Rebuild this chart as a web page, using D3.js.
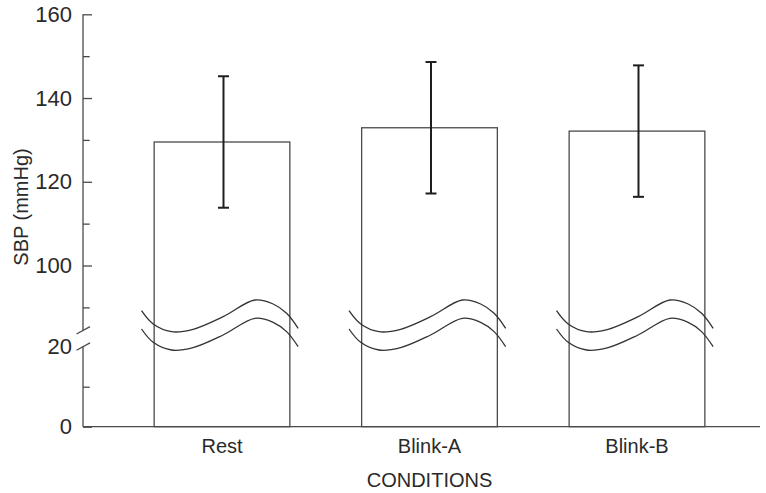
<!DOCTYPE html>
<html>
<head>
<meta charset="utf-8">
<script src="https://cdn.jsdelivr.net/npm/d3@7"></script>
<style>
  html, body { margin: 0; padding: 0; background: #fff; }
  svg { display: block; }
  text { font-family: "Liberation Sans", Arial, Helvetica, sans-serif; fill: #2a2a2a; }
</style>
</head>
<body>
<svg id="chart" width="766" height="493"></svg>
<script>
// Systolic blood pressure by condition (mean ± SD)
const categories = ["Rest", "Blink-A", "Blink-B"];
const meanSBP = [129.5, 132.9, 132.1];
const sdSBP = [15.7, 15.7, 15.7];
const majorTicks = [0, 20, 100, 120, 140, 160];
const minorTicks = [10, 90, 110, 130, 150];
const yTitle = "SBP (mmHg)";
const xTitle = "CONDITIONS";

// Broken value axis: 0–20 below the break, 84.5–160 above it
const breakLow = 20, breakHigh = 84.5;

const svg = d3.select("#chart");
const ink = "#2a2a2a";
const lineGrey = "#4a4a4a";
const axisX = 83;

const y = d3.scaleLinear()
  .domain([0, breakLow, breakHigh, 160])
  .range([426.7, 346.7, 330.4, 14.3]);

const x = d3.scaleBand()
  .domain(categories)
  .range([118.25, 740.75])
  .paddingInner(0.346)
  .paddingOuter(0.173);

const data = categories.map((c, i) => ({ cat: c, mean: meanSBP[i], sd: sdSBP[i] }));

// Bars (outlined, no fill)
svg.append("g").selectAll("rect")
  .data(data).join("rect")
  .attr("x", d => x(d.cat))
  .attr("y", d => y(d.mean))
  .attr("width", x.bandwidth())
  .attr("height", d => y(0) - y(d.mean))
  .attr("fill", "none")
  .attr("stroke", lineGrey)
  .attr("stroke-width", 1.3);

// Wavy break symbol across each bar: [fraction of bar width, px offset from the upper break edge]
const waveShape = [
  [-0.093, -19.7], [-0.007, -6.4], [0.128, 1.3], [0.287, -1.1], [0.508, -13.7],
  [0.742, -30.4], [0.877, -26.4], [0.976, -17.1], [1.061, -2.1]
];
const waveGap = 18.3;
const waveLine = d3.line().curve(d3.curveCatmullRom.alpha(0.5));
const waves = svg.append("g");
data.forEach(d => {
  const x0 = x(d.cat), bw = x.bandwidth(), yb = y(breakHigh);
  [0, waveGap].forEach(off => {
    waves.append("path")
      .attr("d", waveLine(waveShape.map(([fx, dy]) => [x0 + fx * bw, yb + dy + off])))
      .attr("fill", "none")
      .attr("stroke", "#333")
      .attr("stroke-width", 1.3);
  });
});

// Error bars
const cap = 5.5;
const eb = svg.append("g").attr("stroke", "#1e1e1e").attr("stroke-width", 2);
data.forEach(d => {
  const cx = x(d.cat) + x.bandwidth() / 2 + 1.5;
  eb.append("line").attr("x1", cx).attr("x2", cx)
    .attr("y1", y(d.mean + d.sd)).attr("y2", y(d.mean - d.sd));
  [d.mean + d.sd, d.mean - d.sd].forEach(v => {
    eb.append("line").attr("x1", cx - cap).attr("x2", cx + cap)
      .attr("y1", y(v)).attr("y2", y(v));
  });
});

// Y axis: labelled major ticks and unlabelled minor ticks, pointing inward
const yAxis = svg.append("g").attr("transform", `translate(${axisX},0)`)
  .call(d3.axisLeft(y).tickValues(majorTicks).tickSize(-9).tickPadding(11)
    .tickFormat(d3.format("d")));
yAxis.select(".domain").remove();
yAxis.selectAll(".tick line").attr("stroke", lineGrey).attr("stroke-width", 1.3)
  .filter(d => d === breakLow).remove();
yAxis.selectAll(".tick text").style("font-size", "22px").attr("fill", ink);

const yMinor = svg.append("g").attr("transform", `translate(${axisX},0)`)
  .call(d3.axisLeft(y).tickValues(minorTicks).tickSize(-6.7).tickFormat(""));
yMinor.select(".domain").remove();
yMinor.selectAll(".tick line").attr("stroke", lineGrey).attr("stroke-width", 1.3);

// Axis line with a gap at the break, and the two break slashes
const axisG = svg.append("g").attr("stroke", lineGrey).attr("stroke-width", 1.3);
axisG.append("line").attr("x1", axisX).attr("x2", axisX).attr("y1", y(160)).attr("y2", y(breakHigh));
axisG.append("line").attr("x1", axisX).attr("x2", axisX).attr("y1", y(breakLow)).attr("y2", y(0));
[breakHigh, breakLow].forEach(v => {
  axisG.append("line")
    .attr("x1", axisX - 6.5).attr("y1", y(v) + 3.6)
    .attr("x2", axisX + 7).attr("y2", y(v) - 3.8);
});

// X axis baseline and category labels
svg.append("line").attr("x1", axisX).attr("x2", 760).attr("y1", y(0)).attr("y2", y(0))
  .attr("stroke", lineGrey).attr("stroke-width", 1.3);
const xAxis = svg.append("g").attr("transform", `translate(0,${y(0)})`)
  .call(d3.axisBottom(x).tickSize(0).tickPadding(12));
xAxis.select(".domain").remove();
xAxis.selectAll(".tick text").style("font-size", "20px").attr("fill", ink);

// Axis titles
svg.append("text")
  .attr("transform", "rotate(-90)")
  .attr("x", -207).attr("y", 28)
  .attr("text-anchor", "middle")
  .style("font-size", "20px")
  .text(yTitle);

svg.append("text")
  .attr("x", (x.range()[0] + x.range()[1]) / 2).attr("y", 487)
  .attr("text-anchor", "middle")
  .style("font-size", "20px")
  .text(xTitle);
</script>
</body>
</html>
